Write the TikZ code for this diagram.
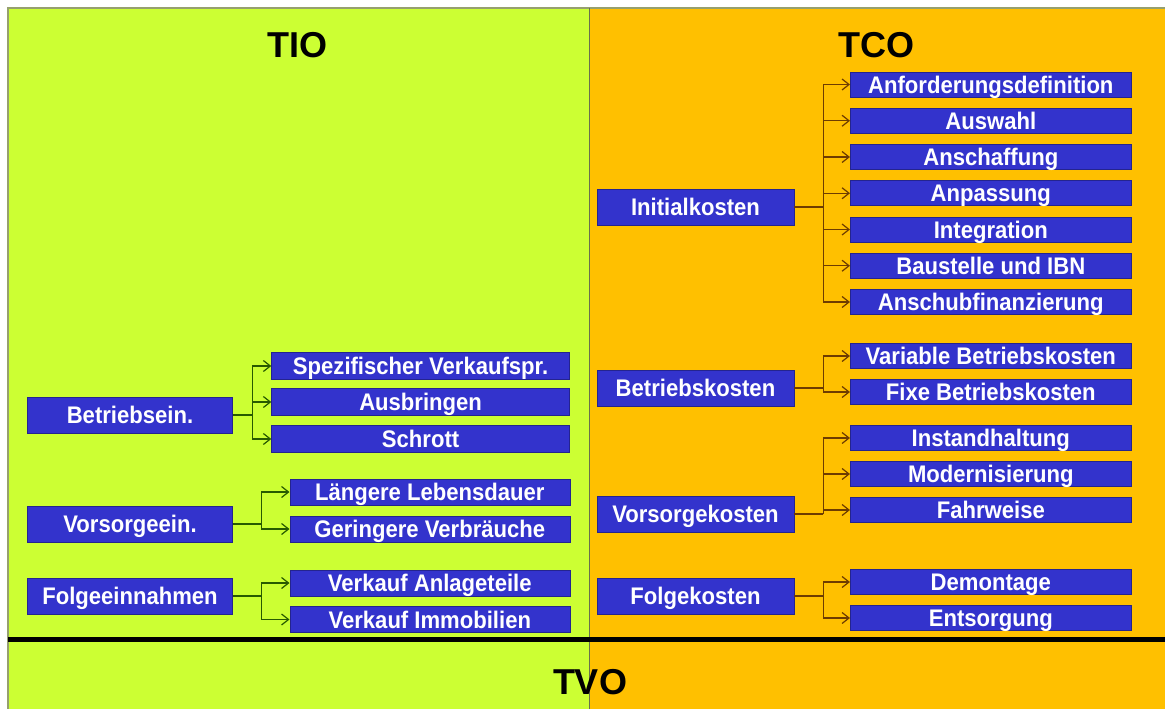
\documentclass[tikz,border=0pt]{standalone}
\usepackage{fontspec}
\setmainfont{Liberation Sans}
\newfontfamily\boxfont[FakeStretch=0.92]{Liberation Sans}
\usepackage{tikz}
\usetikzlibrary{arrows.meta}
\definecolor{tiocol}{RGB}{204,255,51}
\definecolor{tcocol}{RGB}{255,192,0}
\definecolor{boxcol}{RGB}{51,51,204}
\definecolor{framecol}{RGB}{150,160,110}
\definecolor{greenline}{RGB}{40,90,0}
\definecolor{brownline}{RGB}{110,60,0}
\tikzset{>={Straight Barb[length=7pt,width=11pt]}}
\tikzset{
  box/.style={fill=boxcol, draw=boxcol!70!black, line width=0.6pt, text=white,
    font=\boxfont\bfseries\fontsize{24}{24}\selectfont, inner sep=0pt,
    text height=17pt, text depth=0pt, minimum height=#1},
  box/.default=26pt,
  title/.style={font=\bfseries\fontsize{36}{36}\selectfont},
  conn/.style={line width=1.2pt}
}

\begin{document}
\begin{tikzpicture}[x=1pt, y=-1pt]
  \useasboundingbox (0,0) rectangle (1165,709);

  % Background halves
  \fill[tiocol] (8,8) rectangle (589,709);
  \fill[tcocol] (589,8) rectangle (1165,709);
  \draw[framecol, line width=1.5pt] (8,709) -- (8,8) -- (1165,8);
  \draw[framecol!70!black, line width=0.8pt] (589,8) -- (589,709);
  \draw[black, line width=5pt] (8,639) -- (1165,639);

  % Titles
  \node[title] (tio) at (297,45) {TIO};
  \node[title] (tco) at (876,45) {TCO};
  \node[title] (tvo) at (590,682) {TVO};

  % TIO side
  \node[box=36pt, minimum width=205pt] (betr) at (130,415) {Betriebsein.};
  \node[box=36pt, minimum width=205pt] (vors) at (130,524) {Vorsorgeein.};
  \node[box=36pt, minimum width=205pt] (folg) at (130,596) {Folgeeinnahmen};

  \node[box=27pt, minimum width=298pt] (s1) at (420.6,366) {Spezifischer Verkaufspr.};
  \node[box=27pt, minimum width=298pt] (s2) at (420.6,402) {Ausbringen};
  \node[box=27pt, minimum width=298pt] (s3) at (420.6,439) {Schrott};

  \node[box, minimum width=280pt] (v1) at (429.8,492) {Längere Lebensdauer};
  \node[box, minimum width=280pt] (v2) at (429.8,529) {Geringere Verbräuche};
  \node[box, minimum width=280pt] (f1) at (429.8,583) {Verkauf Anlageteile};
  \node[box, minimum width=280pt] (f2) at (429.8,619.5) {Verkauf Immobilien};

  % TCO side
  \node[box=36pt, minimum width=197pt] (init) at (695.5,207) {Initialkosten};
  \node[box=36pt, minimum width=197pt] (betk) at (695.5,388) {Betriebskosten};
  \node[box=36pt, minimum width=197pt] (vork) at (695.5,514) {Vorsorgekosten};
  \node[box=36pt, minimum width=197pt] (folk) at (695.5,596) {Folgekosten};

  \foreach \name/\txt [count=\i] in {i1/Anforderungsdefinition, i2/Auswahl,
      i3/Anschaffung, i4/Anpassung, i5/Integration, i6/Baustelle und IBN,
      i7/Anschubfinanzierung}
    \node[box=25pt, minimum width=281pt] (\name) at (990.8,{84.5+36.25*(\i-1)}) {\txt};

  \node[box=25pt, minimum width=281pt] (b1) at (990.8,356) {Variable Betriebskosten};
  \node[box=25pt, minimum width=281pt] (b2) at (990.8,392) {Fixe Betriebskosten};
  \node[box=25pt, minimum width=281pt] (o1) at (990.8,438) {Instandhaltung};
  \node[box=25pt, minimum width=281pt] (o2) at (990.8,474) {Modernisierung};
  \node[box=25pt, minimum width=281pt] (o3) at (990.8,510) {Fahrweise};
  \node[box=25pt, minimum width=281pt] (d1) at (990.8,582) {Demontage};
  \node[box=25pt, minimum width=281pt] (d2) at (990.8,618) {Entsorgung};

  % Branch points
  \coordinate (betr-b) at ([xshift=20pt]betr.east);
  \coordinate (vors-b) at ([xshift=29pt]vors.east);
  \coordinate (folg-b) at ([xshift=29pt]folg.east);
  \coordinate (init-b) at ([xshift=29pt]init.east);
  \coordinate (betk-b) at ([xshift=29pt]betk.east);
  \coordinate (vork-b) at ([xshift=29pt]vork.east);
  \coordinate (folk-b) at ([xshift=29pt]folk.east);

  % Connectors
  \begin{scope}[conn, greenline]
    \draw (betr.east) -- (betr-b);
    \draw (vors.east) -- (vors-b);
    \draw (folg.east) -- (folg-b);
    \foreach \c in {s1,s2,s3} \draw[->] (betr-b) |- (\c.west);
    \foreach \c in {v1,v2} \draw[->] (vors-b) |- (\c.west);
    \foreach \c in {f1,f2} \draw[->] (folg-b) |- (\c.west);
  \end{scope}
  \begin{scope}[conn, brownline]
    \draw (init.east) -- (init-b);
    \draw (betk.east) -- (betk-b);
    \draw (vork.east) -- (vork-b);
    \draw (folk.east) -- (folk-b);
    \foreach \c in {i1,i2,i3,i4,i5,i6,i7} \draw[->] (init-b) |- (\c.west);
    \foreach \c in {b1,b2} \draw[->] (betk-b) |- (\c.west);
    \foreach \c in {o1,o2,o3} \draw[->] (vork-b) |- (\c.west);
    \foreach \c in {d1,d2} \draw[->] (folk-b) |- (\c.west);
  \end{scope}

\end{tikzpicture}
\end{document}
